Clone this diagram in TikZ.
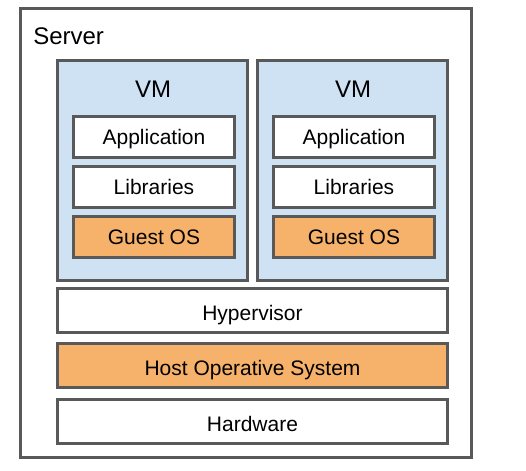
\documentclass[tikz,border=0pt]{standalone}
\usepackage{fontspec}
\setmainfont{Liberation Sans}
\usetikzlibrary{positioning}

\definecolor{vmblue}{HTML}{CFE2F3}
\definecolor{osorange}{HTML}{F6B26B}
\definecolor{edgegray}{HTML}{595959}

\begin{document}
\begin{tikzpicture}[
x=0.75pt, y=-0.75pt,
box/.style={draw=edgegray, line width=2.25pt, fill=white, inner sep=0pt,
  font=\fontsize{15.75}{18}\selectfont, text depth=0pt},
layer/.style={box, minimum width=120.75pt, minimum height=30.75pt, text height=11.3pt},
oslayer/.style={layer, fill=osorange},
vm/.style={box, fill=vmblue, minimum width=142.5pt, minimum height=165pt},
base/.style={box, minimum width=292.5pt, minimum height=33pt, text height=15pt},
title/.style={inner sep=0pt, font=\fontsize{18}{21}\selectfont},
]
\useasboundingbox (0,0) rectangle (526,471);

\node[box, minimum width=338.25pt, minimum height=336.75pt] (server) at (246,233) {};
\node[title, anchor=base west] (serverlabel) at (33,45) {Server};

\node[vm] (vm1) at (152.5,170.5) {};
\node[vm] (vm2) at (352.5,170.5) {};

\node[title, anchor=base] (vmlabel1) at (153,98) {VM};
\node[title, anchor=base] (vmlabel2) at (353,98) {VM};

\node[layer] (app1) at (154,137) {Application};
\node[layer] (lib1) [below=4.5pt of app1] {Libraries};
\node[oslayer] (guest1) [below=4.5pt of lib1] {Guest OS};

\node[layer] (app2) at (354,137) {Application};
\node[layer] (lib2) [below=4.5pt of app2] {Libraries};
\node[oslayer] (guest2) [below=4.5pt of lib2] {Guest OS};

\node[base] (hyper) at (252.5,310) {Hypervisor};
\node[base, fill=osorange] (hostos) [below=6pt of hyper] {Host Operative System};
\node[base] (hardware) [below=7pt of hostos] {Hardware};

\end{tikzpicture}
\end{document}
